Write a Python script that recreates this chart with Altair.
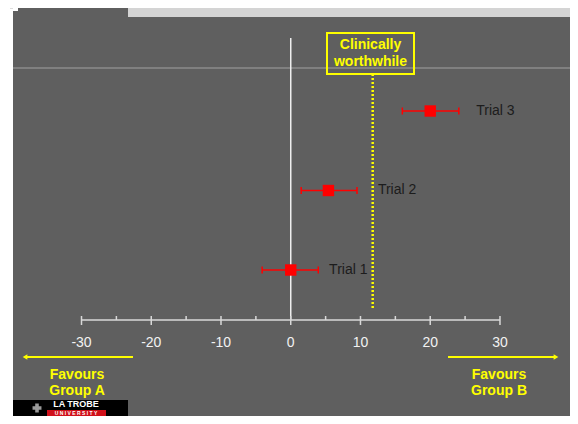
import altair as alt
import pandas as pd

# ---- data ----
trials = ["Trial 1", "Trial 2", "Trial 3"]
rows = [1, 2, 3]
estimates = [0.0, 5.4, 20.0]
ci_low = [-4.1, 1.5, 16.0]
ci_high = [3.95, 9.5, 24.1]
label_x = [5.5, 12.5, 26.6]
worthwhile = 11.75
major_ticks = [-30, -20, -10, 0, 10, 20, 30]
tick_labels = ["-30", "-20", "-10", "0", "10", "20", "30"]
minor_ticks = [-25, -15, -5, 5, 15, 25]

W, H = 562, 408
FONT = "Liberation Sans"
GRAY = "#5f5f5f"
YELLOW = "#ffff00"
RED = "#ff0000"

xs = alt.Scale(domain=[-40.54, 40.04], nice=False, zero=False)
ys = alt.Scale(domain=[-0.8365, 4.2956], nice=False, zero=False)

trial_df = pd.DataFrame({"trial": trials, "row": rows, "est": estimates,
                         "lo": ci_low, "hi": ci_high, "lx": label_x})
cap_df = pd.DataFrame({"row": rows + rows, "cx": ci_low + ci_high})
major_df = pd.DataFrame({"v": major_ticks, "lab": tick_labels})
minor_df = pd.DataFrame({"v": minor_ticks})
axis_df = pd.DataFrame({"a": [major_ticks[0]], "b": [major_ticks[-1]]})
ref_df = pd.DataFrame({"z": [0.0], "w": [worthwhile]})

base = alt.Chart(pd.DataFrame({"d": [0]}))


def rect(x, x2, y, y2, color):
    return base.mark_rect(color=color).encode(
        x=alt.value(x), x2=alt.value(x2), y=alt.value(y), y2=alt.value(y2))


def text(t, x, y, size=14, color=YELLOW, weight="bold", align="center", baseline="alphabetic"):
    return base.mark_text(text=t, font=FONT, fontSize=size, color=color, fontWeight=weight,
                          align=align, baseline=baseline).encode(
        x=alt.value(x), y=alt.value(y))


layers = []
# background panels
layers.append(rect(0, 2, 0, H, "white"))
layers.append(rect(5, W, 0, H, GRAY))
layers.append(rect(120, W, 0, 9, "#d4d4d4"))
layers.append(rect(5, 10, 0, 3, "white"))
# thin horizontal line near top
layers.append(base.mark_rule(color="#a2a2a2", strokeWidth=1).encode(
    x=alt.value(5), x2=alt.value(W), y=alt.value(60)))

# zero line
layers.append(alt.Chart(ref_df).mark_rule(color="#eeeeee", strokeWidth=1.5).encode(
    x=alt.X("z:Q", scale=xs, axis=None), y=alt.value(30), y2=alt.value(312)))

# axis line, ticks, labels
layers.append(alt.Chart(axis_df).mark_rule(color="#d8d8d8", strokeWidth=1.5).encode(
    x=alt.X("a:Q", scale=xs, axis=None), x2="b:Q", y=alt.value(312)))
layers.append(alt.Chart(major_df).mark_rule(color="#d8d8d8", strokeWidth=1.5).encode(
    x=alt.X("v:Q", scale=xs, axis=None), y=alt.value(308), y2=alt.value(317)))
layers.append(alt.Chart(minor_df).mark_rule(color="#d8d8d8", strokeWidth=1.5).encode(
    x=alt.X("v:Q", scale=xs, axis=None), y=alt.value(308), y2=alt.value(312)))
layers.append(alt.Chart(major_df).mark_text(font=FONT, fontSize=14, color="#f2f2f2",
                                            baseline="middle").encode(
    x=alt.X("v:Q", scale=xs, axis=None), y=alt.value(335), text="lab:N"))

# clinically worthwhile dotted line and box
layers.append(alt.Chart(ref_df).mark_rule(color=YELLOW, strokeWidth=2.5, strokeDash=[2, 2]).encode(
    x=alt.X("w:Q", scale=xs, axis=None), y=alt.value(66), y2=alt.value(302)))
layers.append(base.mark_rect(fill=GRAY, fillOpacity=0, stroke=YELLOW, strokeWidth=2).encode(
    x=alt.value(319), x2=alt.value(406), y=alt.value(25), y2=alt.value(66)))
layers.append(text("Clinically", 362.5, 41))
layers.append(text("worthwhile", 362.5, 58))

# trials
layers.append(alt.Chart(trial_df).mark_rule(color=RED, strokeWidth=1.5).encode(
    x=alt.X("lo:Q", scale=xs, axis=None), x2="hi:Q",
    y=alt.Y("row:Q", scale=ys, axis=None)))
layers.append(alt.Chart(cap_df).mark_rule(color=RED, strokeWidth=1.5, yOffset=-3.5, y2Offset=3.5).encode(
    x=alt.X("cx:Q", scale=xs, axis=None),
    y=alt.Y("row:Q", scale=ys, axis=None), y2="row:Q"))
layers.append(alt.Chart(trial_df).mark_square(size=130, color=RED, opacity=1).encode(
    x=alt.X("est:Q", scale=xs, axis=None),
    y=alt.Y("row:Q", scale=ys, axis=None)))
layers.append(alt.Chart(trial_df).mark_text(font=FONT, fontSize=14, color="#1c1c1c",
                                            align="left", baseline="middle").encode(
    x=alt.X("lx:Q", scale=xs, axis=None),
    y=alt.Y("row:Q", scale=ys, axis=None), text="trial:N"))

# favours arrows and texts
layers.append(base.mark_rule(color=YELLOW, strokeWidth=2).encode(
    x=alt.value(18), x2=alt.value(125), y=alt.value(349)))
layers.append(base.mark_point(shape="triangle-left", size=30, filled=True, color=YELLOW, opacity=1).encode(
    x=alt.value(17), y=alt.value(349)))
layers.append(base.mark_rule(color=YELLOW, strokeWidth=2).encode(
    x=alt.value(440), x2=alt.value(546), y=alt.value(349)))
layers.append(base.mark_point(shape="triangle-right", size=30, filled=True, color=YELLOW, opacity=1).encode(
    x=alt.value(548), y=alt.value(349)))
layers.append(text("Favours", 69, 371))
layers.append(text("Group A", 69, 387))
layers.append(text("Favours", 491, 371))
layers.append(text("Group B", 491, 387))

# logo
layers.append(rect(5, 120, 392, H, "black"))
layers.append(base.mark_point(shape="cross", size=80, filled=True, color="#9a9a9a", opacity=1).encode(
    x=alt.value(29), y=alt.value(400)))
layers.append(text("LA TROBE", 68, 399, size=9, color="white", weight="bold"))
layers.append(rect(39, 98, 402, H, "#d0101a"))
layers.append(text("U N I V E R S I T Y", 68, 407, size=5, color="white", weight="bold"))

chart = alt.layer(*layers).properties(
    width=W, height=H, padding=0,
    autosize=alt.AutoSizeParams(type="none"),
).configure_view(strokeWidth=0, fill="black").configure(background="white")

chart.save("out.html", embed_options={"renderer": "svg", "actions": False})
